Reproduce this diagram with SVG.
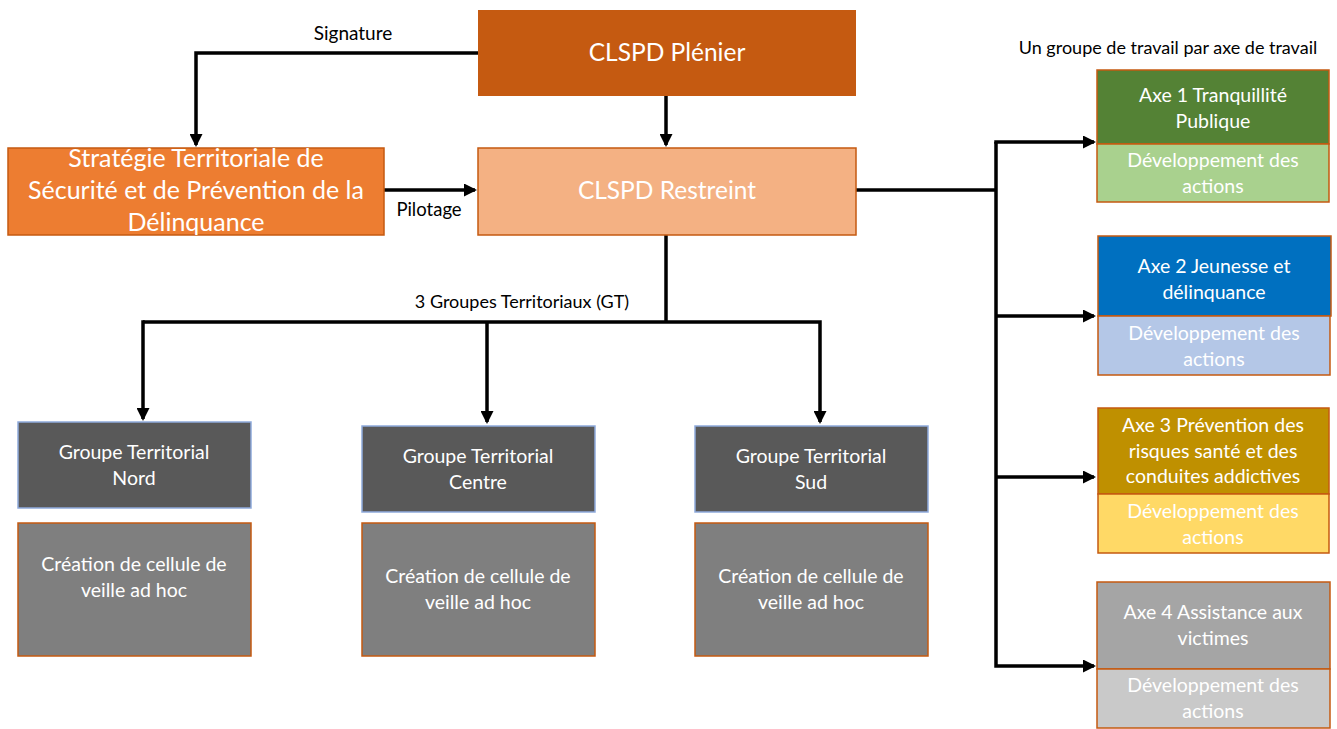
<svg xmlns="http://www.w3.org/2000/svg" width="1337" height="729" viewBox="0 0 1337 729">
<defs>
<marker id="ah" markerWidth="13" markerHeight="13" refX="11" refY="6.5" orient="auto" markerUnits="userSpaceOnUse">
<path d="M0,0 L13,6.5 L0,13 Z" fill="#000"/>
</marker>
<style>
.t{font-family:Lato,"Open Sans","Liberation Sans",sans-serif;fill:#fff;text-anchor:middle}
.big{font-size:24.5px}
.mid{font-size:19.5px}
.lbl{font-family:Lato,"Open Sans","Liberation Sans",sans-serif;fill:#000;font-size:18px;text-anchor:middle}
.c{fill:none;stroke:#000;stroke-width:3.5}
.gt{fill:#595959;stroke:#8FAADC;stroke-width:1.5}
.cr{fill:#7F7F7F;stroke:#C55A11;stroke-width:1.5}
.ob{stroke:#C55A11;stroke-width:1.5}
</style>
</defs>
<rect width="1337" height="729" fill="#fff"/>
<g id="connectors">
<polyline class="c" points="478,53 196,53 196,145" marker-end="url(#ah)"/>
<polyline class="c" points="666,96 666,145" marker-end="url(#ah)"/>
<polyline class="c" points="384,190 475,190" marker-end="url(#ah)"/>
<polyline class="c" points="666,235 666,322"/>
<polyline class="c" points="143,322 820,322 820,422" marker-end="url(#ah)"/>
<polyline class="c" points="143,320.25 143,419" marker-end="url(#ah)"/>
<polyline class="c" points="487,322 487,422" marker-end="url(#ah)"/>
<polyline class="c" points="856,190 996,190"/>
<polyline class="c" points="996,142 996,666 1094,666" marker-end="url(#ah)"/>
<polyline class="c" points="994.25,142 1094,142" marker-end="url(#ah)"/>
<polyline class="c" points="996,316 1094,316" marker-end="url(#ah)"/>
<polyline class="c" points="996,477 1094,477" marker-end="url(#ah)"/>
<text class="lbl" x="353" y="40" style="font-size:19px">Signature</text>
<text class="lbl" x="429" y="216" style="font-size:18.5px">Pilotage</text>
<text class="lbl" x="522" y="308">3 Groupes Territoriaux (GT)</text>
<text class="lbl" x="1168" y="54">Un groupe de travail par axe de travail</text>
</g>
<g id="pleniere">
<rect x="478" y="10" width="378" height="86" fill="#C55A11"/>
<text class="t big" x="667" y="61">CLSPD Plénier</text>
</g>
<g id="restreint">
<rect x="478" y="148" width="378" height="87" fill="#F4B183" class="ob"/>
<text class="t big" x="667" y="199">CLSPD Restreint</text>
</g>
<g id="strategie">
<rect x="8" y="148" width="376" height="87" fill="#ED7D31" class="ob"/>
<text class="t" style="font-size:25px" x="196" y="167">Stratégie Territoriale de</text>
<text class="t" style="font-size:25px" x="196" y="199">Sécurité et de Prévention de la</text>
<text class="t" style="font-size:25px" x="196" y="231">Délinquance</text>
</g>
<g id="gt-nord">
<rect x="18" y="422" width="233" height="86" class="gt"/>
<text class="t mid" x="134" y="459">Groupe Territorial</text>
<text class="t mid" x="134" y="485">Nord</text>
</g>
<g id="cr-nord">
<rect x="18" y="523" width="233" height="133" class="cr"/>
<text class="t mid" x="134" y="571">Création de cellule de</text>
<text class="t mid" x="134" y="597">veille ad hoc</text>
</g>
<g id="gt-centre">
<rect x="362" y="426" width="233" height="86" class="gt"/>
<text class="t mid" x="478" y="463">Groupe Territorial</text>
<text class="t mid" x="478" y="489">Centre</text>
</g>
<g id="cr-centre">
<rect x="362" y="523" width="233" height="133" class="cr"/>
<text class="t mid" x="478" y="583">Création de cellule de</text>
<text class="t mid" x="478" y="609">veille ad hoc</text>
</g>
<g id="gt-sud">
<rect x="695" y="426" width="233" height="86" class="gt"/>
<text class="t mid" x="811" y="463">Groupe Territorial</text>
<text class="t mid" x="811" y="489">Sud</text>
</g>
<g id="cr-sud">
<rect x="695" y="523" width="233" height="133" class="cr"/>
<text class="t mid" x="811" y="583">Création de cellule de</text>
<text class="t mid" x="811" y="609">veille ad hoc</text>
</g>
<g id="axe1">
<rect x="1097" y="70" width="232" height="74" fill="#548235" class="ob"/>
<rect x="1097" y="144" width="232" height="58" fill="#A9D18E" class="ob"/>
<text class="t mid" x="1213" y="102">Axe 1 Tranquillité</text>
<text class="t mid" x="1213" y="128">Publique</text>
<text class="t mid" x="1213" y="167">Développement des</text>
<text class="t mid" x="1213" y="193">actions</text>
</g>
<g id="axe2">
<rect x="1098" y="236" width="233" height="80" fill="#0070C0" class="ob"/>
<rect x="1098" y="316" width="232" height="59" fill="#B4C7E7" class="ob"/>
<text class="t mid" x="1214" y="273">Axe 2 Jeunesse et</text>
<text class="t mid" x="1214" y="299">délinquance</text>
<text class="t mid" x="1214" y="340">Développement des</text>
<text class="t mid" x="1214" y="366">actions</text>
</g>
<g id="axe3">
<rect x="1098" y="408" width="231" height="86" fill="#BF9000" class="ob"/>
<rect x="1098" y="494" width="231" height="59" fill="#FFD966" class="ob"/>
<text class="t mid" x="1213" y="432">Axe 3 Prévention des</text>
<text class="t mid" x="1213" y="458">risques santé et des</text>
<text class="t mid" x="1213" y="483">conduites addictives</text>
<text class="t mid" x="1213" y="518">Développement des</text>
<text class="t mid" x="1213" y="544">actions</text>
</g>
<g id="axe4">
<rect x="1097" y="582" width="233" height="87" fill="#A5A5A5" class="ob"/>
<rect x="1097" y="669" width="233" height="59" fill="#C9C9C9" class="ob"/>
<text class="t mid" x="1213" y="619">Axe 4 Assistance aux</text>
<text class="t mid" x="1213" y="645">victimes</text>
<text class="t mid" x="1213" y="692">Développement des</text>
<text class="t mid" x="1213" y="718">actions</text>
</g>
</svg>
